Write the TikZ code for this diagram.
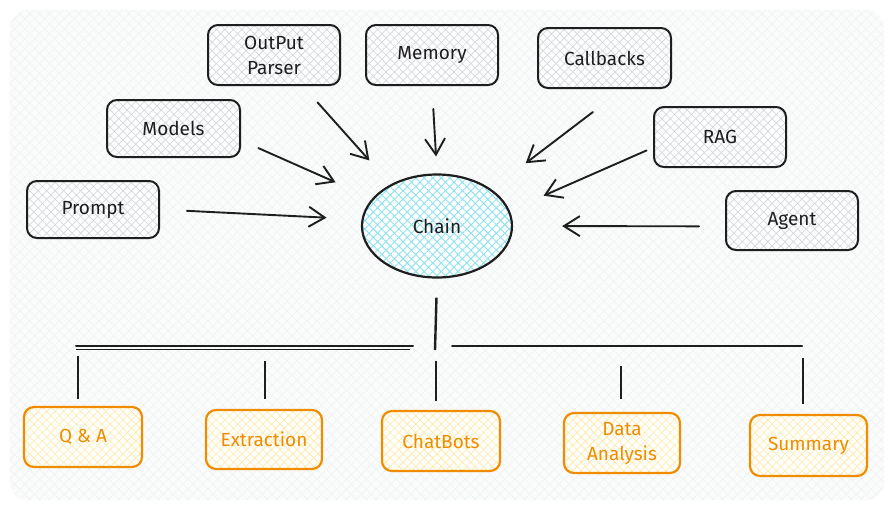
\documentclass[tikz,border=0pt]{standalone}
\usepackage{fontspec}
\setmainfont{Fira Sans}
\usetikzlibrary{shapes.geometric,arrows.meta,patterns.meta,calc}
\definecolor{ink}{HTML}{1E1E1E}
\definecolor{hatchgrey}{HTML}{D3D8DE}
\definecolor{panelfill}{HTML}{FAFBFB}
\definecolor{panelhatch}{HTML}{EEF1F2}
\definecolor{cyanhatch}{HTML}{8FE3EE}
\definecolor{orng}{HTML}{F08C00}
\definecolor{yelhatch}{HTML}{FFE9A0}
\begin{document}
\begin{tikzpicture}[x=1pt,y=-1pt,
  every node/.style={font=\fontsize{19}{25}\selectfont},
  greybox/.style={draw=ink, line width=2pt, rounded corners=10pt, align=center,
    preaction={fill=white},
    preaction={pattern={Hatch[angle=45,distance=6pt,line width=0.7pt]}, pattern color=hatchgrey},
    inner sep=0pt, text=ink},
  orangebox/.style={draw=orng, line width=2.2pt, rounded corners=10pt, align=center,
    preaction={fill=white},
    preaction={pattern={Hatch[angle=45,distance=6pt,line width=0.6pt]}, pattern color=yelhatch},
    inner sep=0pt, text=orng},
  arr/.style={draw=ink, line width=1.9pt, line cap=round,
    -{Straight Barb[length=16pt,width=20pt,line width=1.9pt]}},
  treeline/.style={draw=ink, line width=2pt, line cap=round},
  tickline/.style={draw=ink, line width=2.4pt}
]
\useasboundingbox (0,0) rectangle (891,509);
% background panel
\path[rounded corners=18pt, fill=panelfill] (10,10) rectangle (884,500);
\path[rounded corners=18pt, pattern={Hatch[angle=45,distance=7pt,line width=0.5pt]}, pattern color=panelhatch] (10,10) rectangle (884,500);

% top nodes
\node[greybox, minimum width=132pt, minimum height=60pt] (outp) at (274,55) {OutPut\\Parser};
\node[greybox, minimum width=132pt, minimum height=60pt] (memory) at (432,55) {Memory};
\node[greybox, minimum width=133pt, minimum height=60pt] (callbacks) at (604.5,58) {Callbacks};
\node[greybox, minimum width=133pt, minimum height=57pt] (models) at (173.5,128.5) {Models};
\node[greybox, minimum width=132pt, minimum height=60pt] (rag) at (720,137) {RAG};
\node[greybox, minimum width=132pt, minimum height=57pt] (prompt) at (93,209.5) {Prompt};
\node[greybox, minimum width=132pt, minimum height=59pt] (agent) at (792,220.5) {Agent};

% chain
\node[ellipse, draw=ink, line width=2.2pt, minimum width=150pt, minimum height=103pt, inner sep=0pt,
  preaction={fill=white},
  preaction={pattern={Hatch[angle=45,distance=6pt,line width=0.9pt]}, pattern color=cyanhatch},
  text=ink] (chain) at (437,226) {Chain};

% arrows into chain
\draw[arr, shorten <=27pt, shorten >=35pt] (prompt.east) -- (chain.175);
\draw[arr, shorten <=19pt, shorten >=40pt] (models.-10) -- (chain.157);
\draw[arr, shorten <=22pt, shorten >=32pt] (outp.-47) -- (chain.138);
\draw[arr, shorten <=23pt, shorten >=17pt] (memory.south) -- (chain.north);
\draw[arr, shorten <=38pt, shorten >=43pt] (callbacks.-59) -- (chain.34);
\draw[arr, shorten <=7pt, shorten >=37pt] (rag.189) -- (chain.12);
\draw[arr, shorten <=26pt, shorten >=49pt] (agent.185) -- (chain.east);

% bottom nodes
\node[orangebox, minimum width=118pt, minimum height=60pt] (qa) at (83,437) {Q \& A};
\node[orangebox, minimum width=116pt, minimum height=59pt] (extraction) at (264,439.5) {Extraction};
\node[orangebox, minimum width=118pt, minimum height=60pt] (chatbots) at (441,441) {ChatBots};
\node[orangebox, minimum width=116pt, minimum height=60pt] (data) at (622,443) {Data\\Analysis};
\node[orangebox, minimum width=117pt, minimum height=61pt] (summary) at (808.5,445.5) {Summary};

% tree
\coordinate (hub) at (435,350);
\coordinate (busL) at (76,346);
\coordinate (busLm) at (413,346);
\coordinate (busRm) at (452,346);
\coordinate (busR) at (802,346);
\coordinate (b1) at (78,346);
\coordinate (b2) at (265,346);
\coordinate (b3) at (436,346);
\coordinate (b4) at (621,346);
\coordinate (b5) at (803,346);

\draw[tickline, shorten <=19pt] (chain.south) -- (hub);
\draw[treeline] (busL) -- (busLm);
\draw[draw=ink, line width=0.9pt] ($(busL)+(0,3)$) -- ($(busLm)+(-3,3)$);
\draw[treeline] (busRm) -- (busR);

\draw[tickline, shorten <=10pt, shorten >=7pt] (b1) -- (b1 |- qa.north);
\draw[tickline, shorten <=15pt, shorten >=10pt] (b2) -- (b2 |- extraction.north);
\draw[tickline, shorten <=15pt, shorten >=9pt] (b3) -- (b3 |- chatbots.north);
\draw[tickline, shorten <=20pt, shorten >=13pt] (b4) -- (b4 |- data.north);
\draw[tickline, shorten <=12pt, shorten >=10pt] (b5) -- (b5 |- summary.north);
\end{tikzpicture}
\end{document}
